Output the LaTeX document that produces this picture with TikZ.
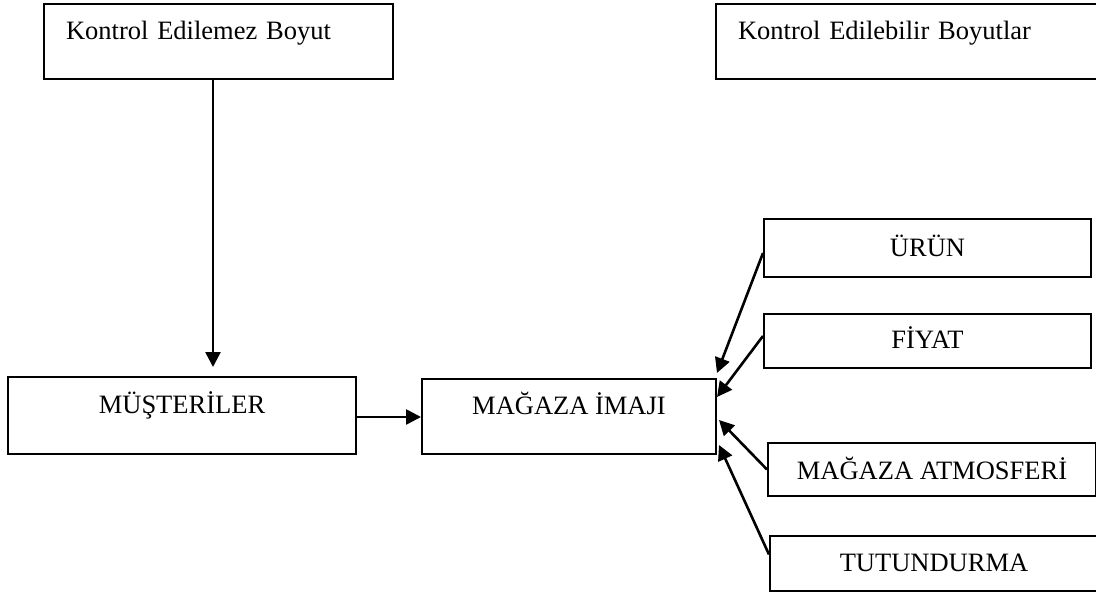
\documentclass[tikz,border=0pt]{standalone}
\usepackage{fontspec}
\setmainfont{Liberation Serif}
\usetikzlibrary{arrows.meta,calc}
\begin{document}
\begin{tikzpicture}[x=1pt,y=-1pt,
  box/.style={draw, line width=2pt, inner sep=0pt, anchor=north west,
    font=\fontsize{26.5}{30}\selectfont},
  arr/.style={line width=2.6pt, -{Triangle[length=15pt,width=15pt]}}]
\clip (0,0) rectangle (1096,594);
\fill[white] (0,0) rectangle (1096,594);

% upper dimension boxes (left-aligned text)
\node[box, inner xsep=22pt, text width=305pt, align=left,
      text height=36pt, text depth=39pt] (edilemez) at (43,3) {Kontrol Edilemez Boyut};
\node[box, inner xsep=22pt, text width=341pt, align=left,
      text height=36pt, text depth=39pt] (edilebilir) at (715,3) {Kontrol Edilebilir Boyutlar};

% main row
\node[box, minimum width=348pt, text height=36pt, text depth=41pt] (musteri) at (7,376) {MÜŞTERİLER};
\node[box, minimum width=294pt, text height=35pt, text depth=40pt] (magaza) at (421,378) {MAĞAZA İMAJI};

% controllable factors
\node[box, minimum width=327pt, text height=37pt, text depth=21pt] (urun) at (763,218) {ÜRÜN};
\node[box, minimum width=327pt, text height=34pt, text depth=20pt] (fiyat) at (763,313) {FİYAT};
\node[box, minimum width=328pt, text height=36pt, text depth=17pt] (atmosfer) at (767,442) {MAĞAZA ATMOSFERİ};
\node[box, minimum width=328pt, text height=35pt, text depth=20pt] (tutundurma) at (769,535) {TUTUNDURMA};

% arrow end points
\coordinate (e1) at ($(edilemez.south west)+(170,0)$);
\coordinate (t1) at ($(musteri.north west)+(206,-9)$);
\coordinate (t2) at ($(magaza.north east)+(0,-5)$);
\coordinate (t3) at ($(magaza.north east)+(0,19)$);
\coordinate (t4) at ($(magaza.north east)+(2,42)$);
\coordinate (t5) at ($(magaza.north east)+(2,67)$);

\draw[arr] (e1) -- (t1);
\draw[arr] ([yshift=-1.5pt]musteri.east) -- ([yshift=-1.5pt]magaza.west |- musteri.east);
\draw[arr] ([yshift=-5pt]urun.west) -- (t2);
\draw[arr] ([yshift=5pt]fiyat.west) -- (t3);
\draw[arr] (atmosfer.west) -- (t4);
\draw[arr] ([yshift=9pt]tutundurma.west) -- (t5);
\end{tikzpicture}
\end{document}
